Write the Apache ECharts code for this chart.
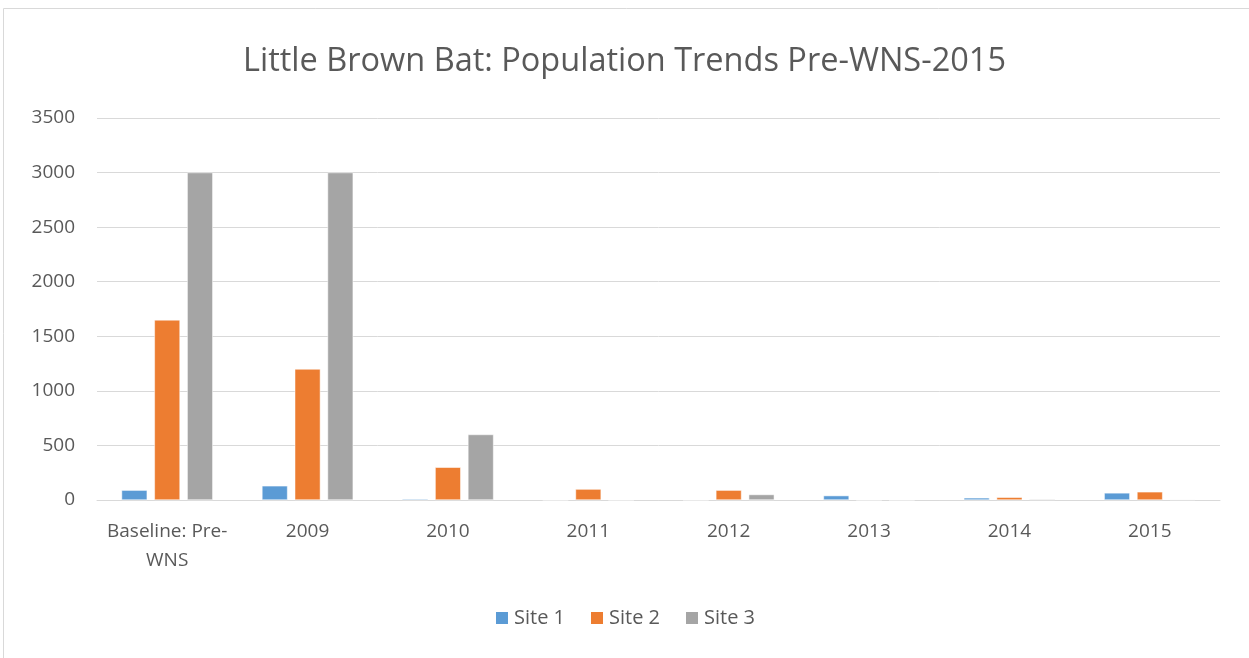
<!DOCTYPE html>
<html>
<head>
<meta charset="utf-8">
<script src="https://cdn.jsdelivr.net/npm/echarts@6/dist/echarts.min.js"></script>
<style>
  html, body { margin: 0; padding: 0; background: #fff; }
  #main { width: 1249px; height: 658px; }
</style>
</head>
<body>
<div id="main"></div>
<script>
var categories = ["Baseline: Pre-WNS", "2009", "2010", "2011", "2012", "2013", "2014", "2015"];
var site1 = [90, 130, 10, 0, 0, 40, 20, 65];
var site2 = [1650, 1200, 300, 100, 90, 0, 25, 75];
var site3 = [3000, 3000, 600, 0, 50, 0, 8, 5];
var yTicks = { min: 0, max: 3500, interval: 500 };

var txt = "#595959";
var font = "Open Sans";

var mychart = echarts.init(document.getElementById("main"));

function bar(name, data, color) {
    return {
        name: name,
        type: "bar",
        data: data,
        barGap: "28%",
        barCategoryGap: "35%",
        itemStyle: { color: color, borderColor: "#fff", borderWidth: 0.5 }
    };
}

mychart.setOption({
    animation: false,
    textStyle: { fontFamily: font },
    title: {
        text: "Little Brown Bat: Population Trends Pre-WNS-2015",
        left: "center",
        top: 40,
        textStyle: { fontFamily: font, fontSize: 32.5, fontWeight: "normal", color: txt }
    },
    graphic: [{
        type: "rect",
        shape: { x: 3.5, y: 8.5, width: 1300, height: 700 },
        style: { fill: "none", stroke: "#d9d9d9", lineWidth: 1 },
        silent: true
    }],
    legend: {
        bottom: 25,
        left: "center",
        itemWidth: 14,
        itemHeight: 14,
        itemGap: 24,
        icon: "rect",
        textStyle: { fontFamily: font, fontSize: 20, color: txt }
    },
    grid: { left: 97, right: 29, top: 118, bottom: 158, containLabel: false },
    xAxis: {
        type: "category",
        data: categories,
        axisLine: { lineStyle: { color: "#d9d9d9", width: 1 } },
        axisTick: { show: false },
        axisLabel: {
            interval: 0,
            fontFamily: font, fontSize: 19, color: txt, margin: 17, lineHeight: 29,
            formatter: function (v) { return v.replace("Pre-WNS", "Pre-\nWNS"); }
        }
    },
    yAxis: {
        type: "value",
        min: yTicks.min,
        max: yTicks.max,
        interval: yTicks.interval,
        axisLine: { show: false },
        axisTick: { show: false },
        splitLine: { lineStyle: { color: "#d9d9d9", width: 1 } },
        axisLabel: {
            fontFamily: font, fontSize: 19, color: txt, margin: 22,
            formatter: function (v) { return String(v); }
        }
    },
    series: [
        bar("Site 1", site1, "#5b9bd5"),
        bar("Site 2", site2, "#ed7d31"),
        bar("Site 3", site3, "#a5a5a5")
    ]
});
</script>
</body>
</html>
